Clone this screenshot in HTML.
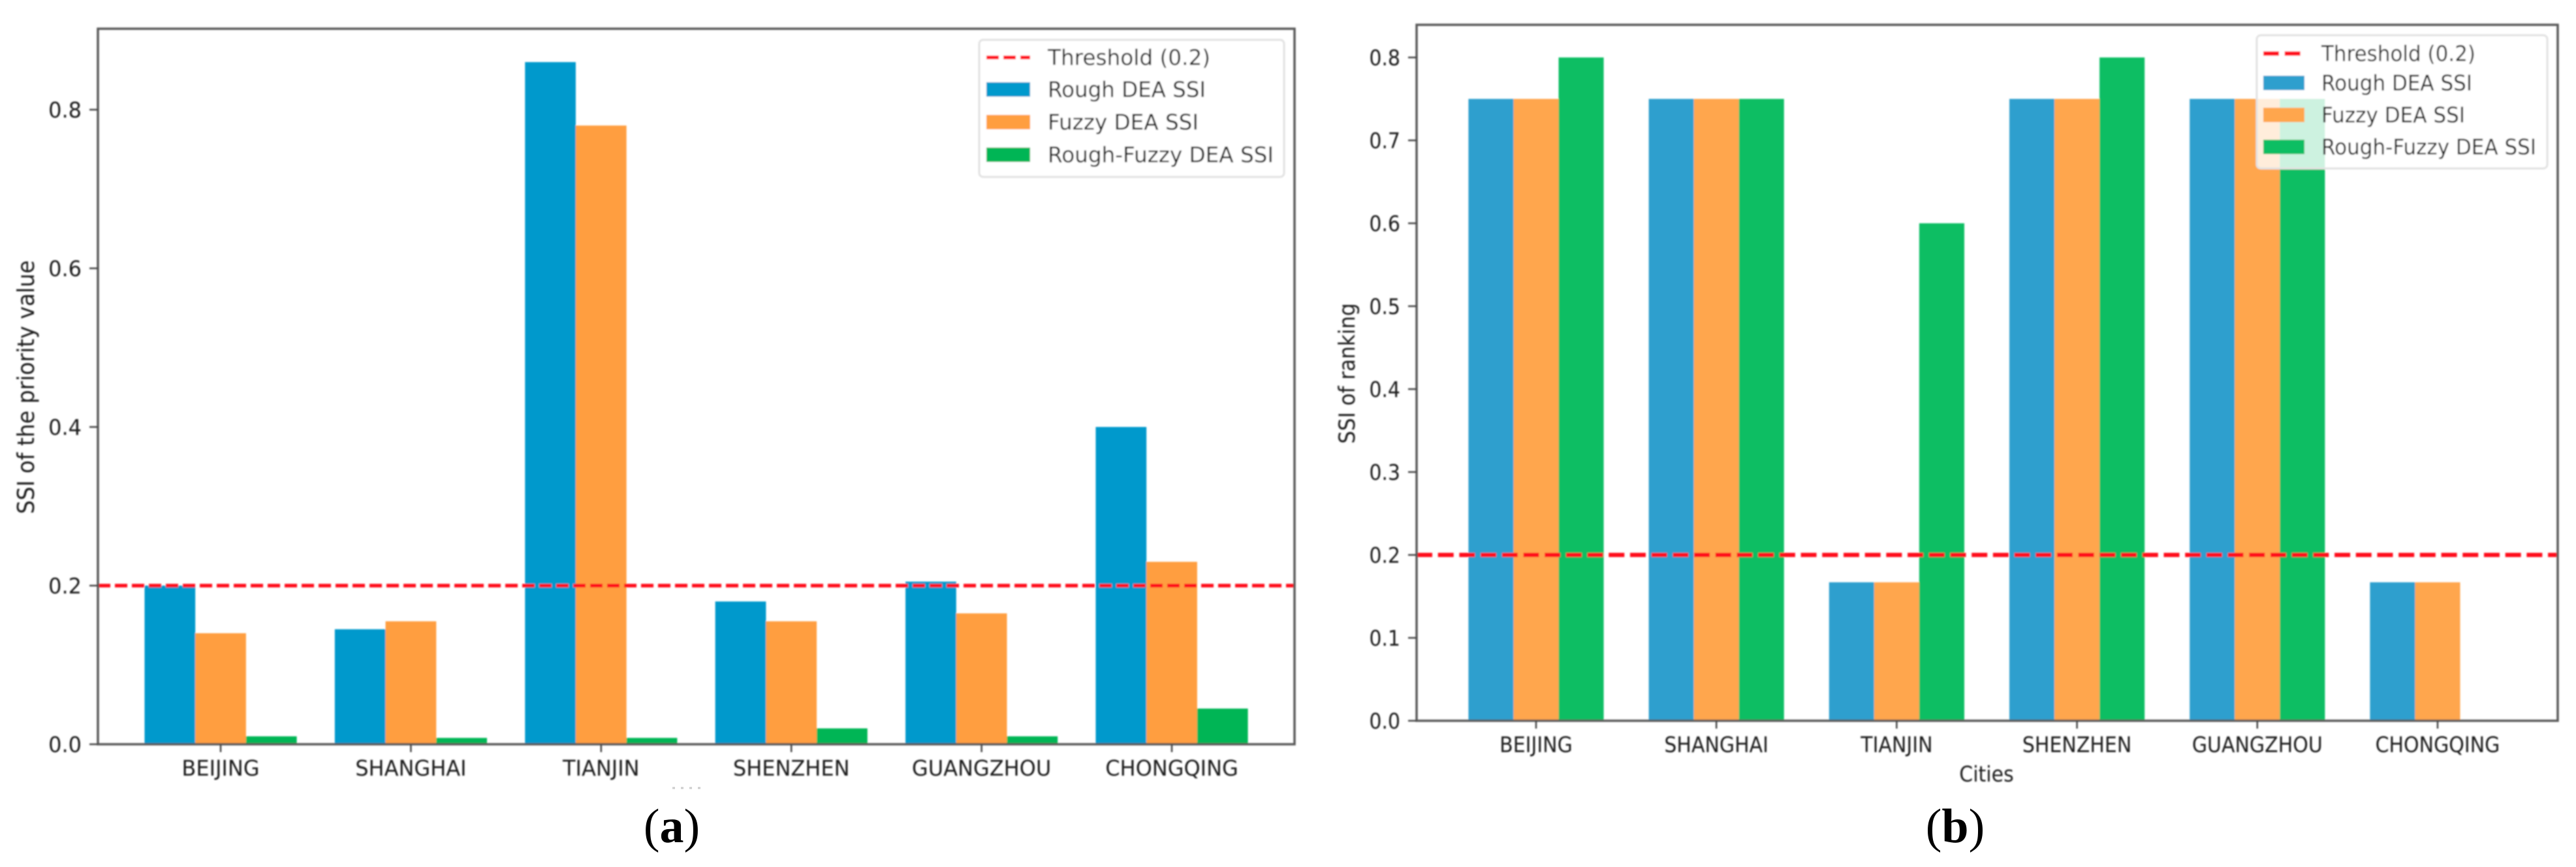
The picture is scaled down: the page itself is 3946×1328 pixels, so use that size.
<!DOCTYPE html>
<html lang="en">
<head>
<meta charset="utf-8">
<title>SSI comparison charts</title>
<style>
  html, body { margin: 0; padding: 0; background: #ffffff; }
  body { width: 3946px; height: 1328px; overflow: hidden; }
  svg { display: block; }
  text { font-family: "DejaVu Sans", "Liberation Sans", sans-serif; fill: #1a1a1a; }
  .caption { font-family: "Liberation Serif", serif; font-size: 74px; fill: #000; }
</style>
</head>
<body>
<svg id="figure" xmlns="http://www.w3.org/2000/svg" width="3946" height="1328" viewBox="0 0 3946 1328">
  <defs>
    <filter id="soft" x="-2%" y="-2%" width="104%" height="104%">
      <feGaussianBlur stdDeviation="1.1"/>
    </filter>
  </defs>
  <rect x="0" y="0" width="3946" height="1328" fill="#ffffff"/>
  <g id="panel-a" filter="url(#soft)"></g>
  <g id="panel-b" filter="url(#soft)"></g>
  <line x1="1030" y1="1207" x2="1073" y2="1207" stroke="#999" stroke-width="3" stroke-dasharray="4 9" opacity="0.5"/>
  <text class="caption" x="1029" y="1290" text-anchor="middle">(<tspan font-weight="bold">a</tspan>)</text>
  <text class="caption" x="2995" y="1290" text-anchor="middle">(<tspan font-weight="bold">b</tspan>)</text>
</svg>
<script>
const categories = ["BEIJING", "SHANGHAI", "TIANJIN", "SHENZHEN", "GUANGZHOU", "CHONGQING"];
const seriesNames = ["Rough DEA SSI", "Fuzzy DEA SSI", "Rough-Fuzzy DEA SSI"];
const thresholdLabel = "Threshold (0.2)";
const thresholdValue = 0.2;

const roughPriority = [0.2, 0.145, 0.86, 0.18, 0.205, 0.4];
const fuzzyPriority = [0.14, 0.155, 0.78, 0.155, 0.165, 0.23];
const hybridPriority = [0.01, 0.008, 0.008, 0.02, 0.01, 0.045];
const tickLabelsPriority = ["0.0", "0.2", "0.4", "0.6", "0.8"];

const roughRanking = [0.75, 0.75, 0.167, 0.75, 0.75, 0.167];
const fuzzyRanking = [0.75, 0.75, 0.167, 0.75, 0.75, 0.167];
const hybridRanking = [0.8, 0.75, 0.6, 0.8, 0.75, 0];
const tickLabelsRanking = ["0.0", "0.1", "0.2", "0.3", "0.4", "0.5", "0.6", "0.7", "0.8"];

const SVG_NS = "http://www.w3.org/2000/svg";

function make(parent, tag, attrs, content) {
  const node = document.createElementNS(SVG_NS, tag);
  for (const key in attrs) node.setAttribute(key, attrs[key]);
  if (content !== undefined) node.textContent = content;
  parent.appendChild(node);
  return node;
}

function placed(x, y, stretch) {
  return "translate(" + x + " " + y + ") scale(1 " + stretch + ")";
}

function drawChart(root, cfg, seriesValues, tickLabels) {
  const xPos = (i) => cfg.firstCenter + cfg.step * i;
  const yPos = (v) => cfg.baseY - cfg.unit * v;
  const barWidth = cfg.step * cfg.groupShare / 3;

  seriesValues.forEach((values, s) => {
    values.forEach((value, i) => {
      const bar = make(root, "rect", {
        x: xPos(i) + (s - 1.5) * barWidth,
        y: yPos(value),
        width: barWidth,
        height: Math.max(0, cfg.baseY - yPos(value)),
        fill: cfg.colors[s]
      });
      
      
    });
  });

  const threshold = make(root, "line", {
    x1: cfg.left, x2: cfg.right, y1: yPos(thresholdValue), y2: yPos(thresholdValue),
    stroke: "#ff0f1f", "stroke-width": cfg.lineWidth, "stroke-dasharray": cfg.dash
  });
  
  

  const frame = make(root, "rect", {
    x: cfg.left, y: cfg.top, width: cfg.right - cfg.left, height: cfg.baseY - cfg.top,
    fill: "none", stroke: "#5a5a5a", "stroke-width": 3.5
  });
  
  

  tickLabels.forEach((label) => {
    const v = parseFloat(label);
    const tick = make(root, "line", {
      x1: cfg.left - 13, x2: cfg.left, y1: yPos(v), y2: yPos(v),
      stroke: "#444", "stroke-width": 2.5
    });
    
    
    const text = make(root, "text", {
      transform: placed(cfg.left - 25, yPos(v) + 12, cfg.stretch),
      "text-anchor": "end", "font-size": cfg.tickFont
    }, label);
    
    
  });

  categories.forEach((name, i) => {
    const tick = make(root, "line", {
      x1: xPos(i), x2: xPos(i), y1: cfg.baseY, y2: cfg.baseY + 12,
      stroke: "#444", "stroke-width": 2.5
    });
    
    
    const text = make(root, "text", {
      transform: placed(xPos(i), cfg.xLabelY, cfg.stretch),
      "text-anchor": "middle", "font-size": cfg.tickFont
    }, name);
    
    
  });

  const yTitle = make(root, "text", {
    transform: "translate(" + cfg.yTitleX + " " + cfg.yTitleY + ") rotate(-90) scale(1 1.08)",
    "text-anchor": "middle", "font-size": cfg.yTitleFont
  }, cfg.yTitle);
  
  

  if (cfg.xTitle) {
    const xTitle = make(root, "text", {
      transform: placed(cfg.xTitleX, cfg.xTitleY, cfg.stretch),
      "text-anchor": "middle", "font-size": cfg.tickFont
    }, cfg.xTitle);
    
    
  }

  const lg = cfg.legend;
  const legendGroup = make(root, "g", {});
  
  

  const legendBox = make(legendGroup, "rect", {
    x: lg.x, y: lg.y, width: lg.w, height: lg.h, rx: 6, ry: 6,
    fill: "#ffffff", "fill-opacity": 0.8, stroke: "#e2e2e2", "stroke-width": 3
  });
  
  

  const lineHandle = make(legendGroup, "line", {
    x1: lg.handleX, x2: lg.handleX + lg.handleW, y1: lg.rows[0], y2: lg.rows[0],
    stroke: "#ff0f1f", "stroke-width": cfg.lineWidth, "stroke-dasharray": cfg.dash
  });
  
  

  const thresholdText = make(legendGroup, "text", {
    transform: placed(lg.textX, lg.rows[0] + 11.5, cfg.stretch),
    "font-size": lg.font, textLength: lg.spans[0], lengthAdjust: "spacingAndGlyphs"
  }, thresholdLabel);
  
  

  seriesNames.forEach((name, s) => {
    const swatch = make(legendGroup, "rect", {
      x: lg.handleX, y: lg.rows[s + 1] - 11, width: lg.handleW, height: 22, fill: cfg.colors[s]
    });
    
    
    const label = make(legendGroup, "text", {
      transform: placed(lg.textX, lg.rows[s + 1] + 11.5, cfg.stretch),
      "font-size": lg.font, textLength: lg.spans[s + 1], lengthAdjust: "spacingAndGlyphs"
    }, name);
    
    
  });
}

drawChart(document.getElementById("panel-a"), {
  id: "a", left: 150, right: 1983, top: 44, baseY: 1140, unit: 1215,
  firstCenter: 338, step: 291.4, groupShare: 0.8,
  colors: ["#0099cc", "#ff9e40", "#00b554"],
  lineWidth: 5.5, dash: "19 7", tickFont: 32, xLabelY: 1188, stretch: 1.03,
  yTitle: "SSI of the priority value", yTitleX: 52, yTitleY: 593, yTitleFont: 33,
  legend: { x: 1500, y: 61, w: 467, h: 210, handleX: 1511, handleW: 67, textX: 1605, font: 32,
            spans: [249, 242, 231, 346], rows: [88, 137, 187, 237] }
}, [roughPriority, fuzzyPriority, hybridPriority], tickLabelsPriority);

drawChart(document.getElementById("panel-b"), {
  id: "b", left: 2170, right: 3918, top: 38, baseY: 1104, unit: 1270,
  firstCenter: 2353, step: 276.2, groupShare: 0.75,
  colors: ["#2e9fce", "#ffa64d", "#08be64"],
  lineWidth: 6.5, dash: "24 8.7", tickFont: 30, xLabelY: 1152, stretch: 1.09,
  yTitle: "SSI of ranking", yTitleX: 2075, yTitleY: 572, yTitleFont: 31,
  xTitle: "Cities", xTitleX: 3043, xTitleY: 1197,
  legend: { x: 3457, y: 54, w: 445, h: 204, handleX: 3467, handleW: 63, textX: 3556, font: 30.5,
            spans: [236, 231, 220, 329], rows: [82, 127, 176, 225] }
}, [roughRanking, fuzzyRanking, hybridRanking], tickLabelsRanking);
</script>
</body>
</html>
